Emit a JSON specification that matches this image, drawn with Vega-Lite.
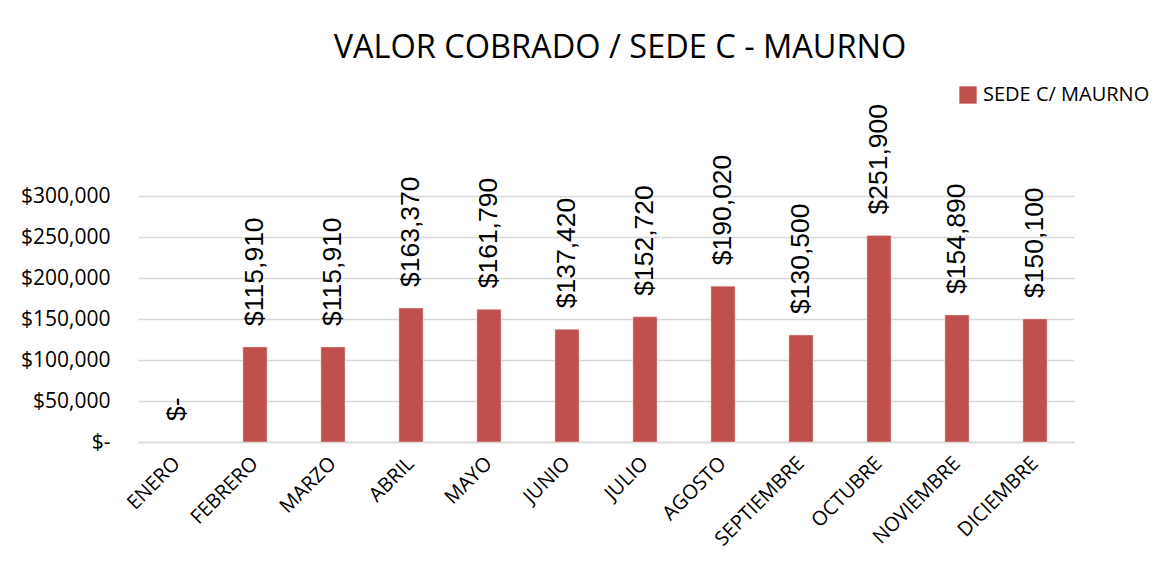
{
  "$schema": "https://vega.github.io/schema/vega-lite/v6.json",
  "width": 936,
  "height": 246,
  "autosize": {"type": "none"},
  "padding": {"left": 138, "top": 196, "right": 100, "bottom": 128},
  "background": "white",
  "title": {
    "text": "VALOR COBRADO / SEDE C - MAURNO",
    "font": "Open Sans",
    "fontSize": 32.5,
    "fontWeight": "normal",
    "color": "#000000",
    "anchor": "middle",
    "offset": 21,
    "dx": 14
  },
  "data": {
    "values": [
      {"mes": "ENERO", "valor": 0, "sede": "SEDE C/ MAURNO"},
      {"mes": "FEBRERO", "valor": 115910, "sede": "SEDE C/ MAURNO"},
      {"mes": "MARZO", "valor": 115910, "sede": "SEDE C/ MAURNO"},
      {"mes": "ABRIL", "valor": 163370, "sede": "SEDE C/ MAURNO"},
      {"mes": "MAYO", "valor": 161790, "sede": "SEDE C/ MAURNO"},
      {"mes": "JUNIO", "valor": 137420, "sede": "SEDE C/ MAURNO"},
      {"mes": "JULIO", "valor": 152720, "sede": "SEDE C/ MAURNO"},
      {"mes": "AGOSTO", "valor": 190020, "sede": "SEDE C/ MAURNO"},
      {"mes": "SEPTIEMBRE", "valor": 130500, "sede": "SEDE C/ MAURNO"},
      {"mes": "OCTUBRE", "valor": 251900, "sede": "SEDE C/ MAURNO"},
      {"mes": "NOVIEMBRE", "valor": 154890, "sede": "SEDE C/ MAURNO"},
      {"mes": "DICIEMBRE", "valor": 150100, "sede": "SEDE C/ MAURNO"}
    ]
  },
  "transform": [
    {"calculate": "datum.valor == 0 ? '$-' : format(datum.valor, '$,')", "as": "etiqueta"}
  ],
  "encoding": {
    "x": {
      "field": "mes",
      "type": "nominal",
      "sort": null,
      "scale": {"paddingInner": 0.69, "paddingOuter": 0.345},
      "axis": {
        "title": null,
        "labelAngle": -45,
        "labelAlign": "right",
        "labelBaseline": "middle",
        "labelPadding": 18,
        "labelFont": "Open Sans",
        "labelFontSize": 20,
        "labelColor": "#000000",
        "ticks": false,
        "domainColor": "#d9d9d9",
        "domainWidth": 1.5
      }
    },
    "y": {
      "field": "valor",
      "type": "quantitative",
      "scale": {"domain": [0, 300000]},
      "axis": {
        "title": null,
        "values": [0, 50000, 100000, 150000, 200000, 250000, 300000],
        "labelExpr": "datum.value == 0 ? '$-' : format(datum.value, '$,')",
        "labelFont": "Open Sans",
        "labelFontSize": 21,
        "labelColor": "#000000",
        "labelPadding": 28,
        "ticks": false,
        "domain": false,
        "gridColor": "#d9d9d9",
        "gridWidth": 1.5
      }
    }
  },
  "layer": [
    {
      "mark": {"type": "bar", "stroke": "#f2dcdb", "strokeWidth": 0.5},
      "encoding": {
        "color": {
          "field": "sede",
          "type": "nominal",
          "scale": {"range": ["#C0504D"]},
          "legend": {
            "title": null,
            "orient": "none",
            "legendX": 820,
            "legendY": -111,
            "symbolType": "square",
            "symbolSize": 300,
            "symbolStrokeWidth": 0,
            "labelFont": "Open Sans",
            "labelFontSize": 20,
            "labelLimit": 400,
            "labelColor": "#000000",
            "labelOffset": 5
          }
        }
      }
    },
    {
      "mark": {
        "type": "text",
        "angle": 270,
        "align": "left",
        "baseline": "middle",
        "dx": 21,
        "font": "Liberation Sans",
        "fontSize": 26.5,
        "color": "#000000",
        "clip": false
      },
      "encoding": {
        "text": {"field": "etiqueta"}
      }
    }
  ],
  "config": {
    "view": {"stroke": null}
  }
}
